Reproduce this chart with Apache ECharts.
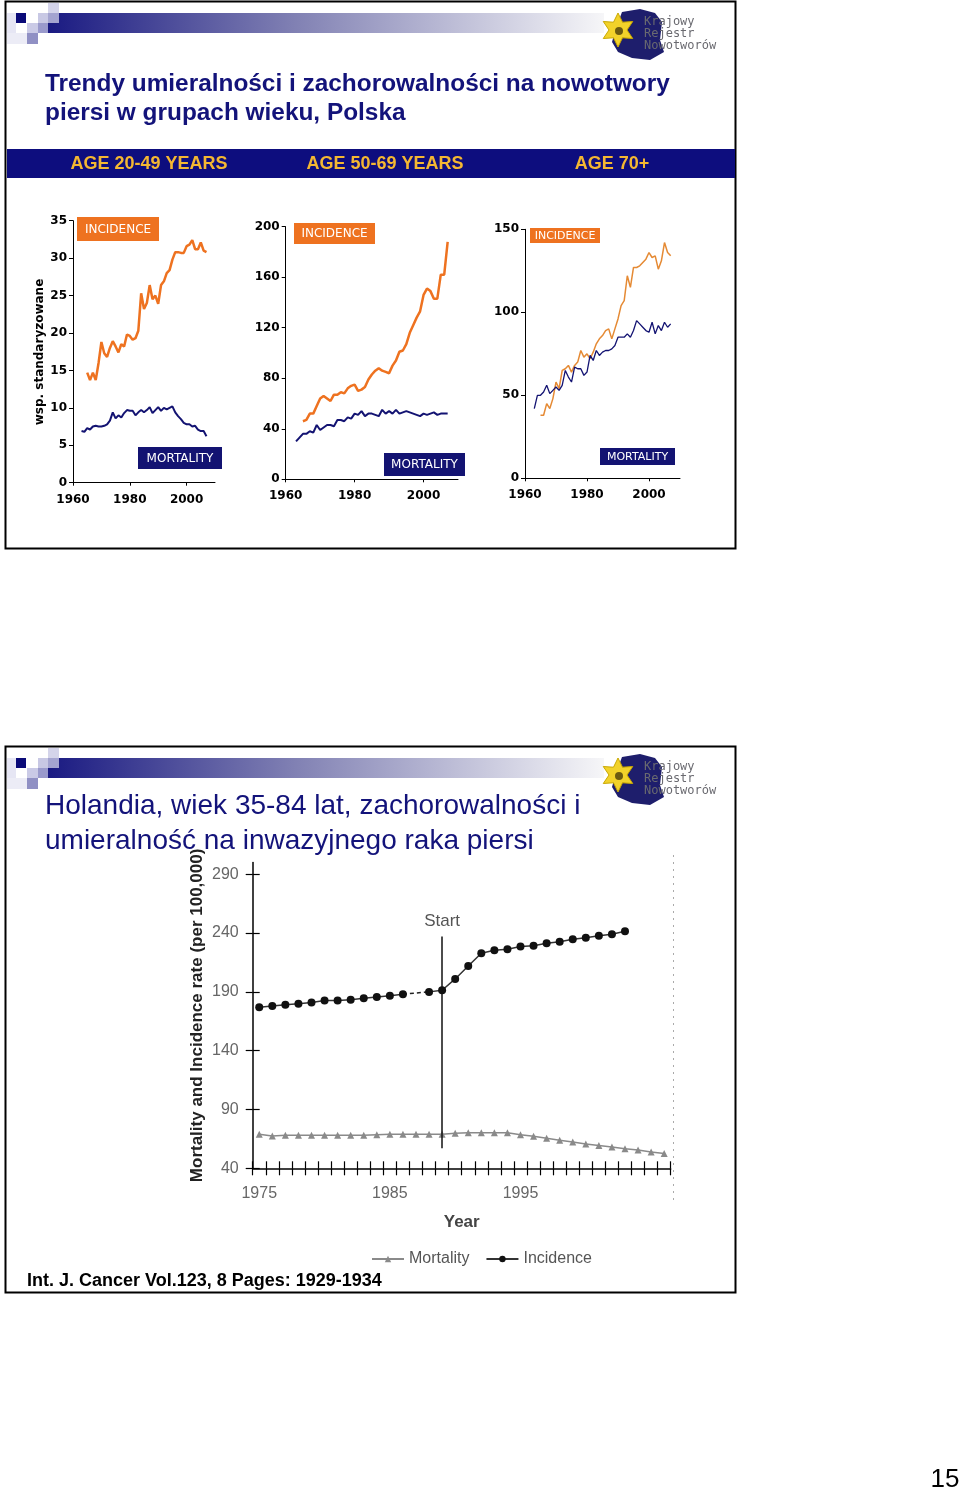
<!DOCTYPE html>
<html>
<head>
<meta charset="utf-8">
<script src="https://cdn.jsdelivr.net/npm/echarts@6/dist/echarts.min.js"></script>
<style>
html, body { margin: 0; padding: 0; background: #fff; }
#main { width: 960px; height: 1494px; }
</style>
</head>
<body>
<div id="main"></div>
<script>
// --- Polska: wsp. standaryzowane, lata 1963-2007 ---
var incStart = 1965
var mortStart = 1963
var inc2049 = [14.7, 13.7, 14.7, 13.7, 16.0, 18.8, 17.3, 16.8, 18.0, 18.9,
  18.2, 17.4, 18.5, 18.2, 19.8, 19.6, 19.1, 19.3, 20.3, 25.3,
  23.2, 24.0, 26.4, 24.5, 25.0, 23.9, 26.4, 26.9, 28.0, 28.4,
  29.8, 30.8, 30.8, 30.7, 30.7, 31.6, 31.8, 32.4, 31.2, 31.2,
  32.1, 31.0, 30.8]
var mort2049 = [6.9, 6.8, 7.3, 7.1, 7.5, 7.6, 7.5, 7.5, 7.6, 7.8,
  8.3, 9.4, 8.6, 9.0, 8.7, 9.3, 9.7, 9.6, 9.6, 9.0,
  9.4, 9.7, 9.4, 9.7, 10.1, 9.3, 9.7, 10.1, 9.6, 10.0,
  9.8, 10.0, 10.2, 9.4, 8.9, 8.5, 8.0, 7.8, 7.8, 7.5,
  7.6, 7.1, 6.9, 6.9, 6.2]
var inc5069 = [46, 47, 52, 52, 58, 64, 66, 64, 62, 67,
  67, 69, 68, 72, 74, 75, 70, 71, 73, 79,
  83, 86, 88, 86, 85, 84, 90, 94, 101, 102,
  107, 116, 122, 128, 133, 146, 151, 149, 143, 143,
  162, 162, 188]
var mort5069 = [30, 33, 36, 36, 38, 37, 43, 39, 41, 43,
  43, 42, 47, 47, 46, 49, 48, 52, 51, 54,
  50, 52, 52, 51, 50, 55, 52, 54, 52, 55,
  52, 53, 54, 53, 52, 51, 50, 52, 51, 52,
  53, 51, 52, 52, 52]
var inc70 = [38, 38, 45, 42, 48, 58, 54, 65, 66, 68,
  64, 68, 70, 77, 73, 75, 72, 76, 81, 84,
  86, 89, 90, 84, 90, 96, 104, 107, 122, 115,
  127, 127, 128, 130, 132, 136, 133, 134, 126, 131,
  142, 136, 134]
var mort70 = [42, 50, 50, 52, 56, 51, 53, 55, 53, 56,
  65, 61, 58, 67, 66, 66, 62, 64, 74, 71,
  77, 74, 76, 77, 77, 78, 80, 85, 85, 85,
  87, 85, 89, 95, 93, 91, 89, 88, 94, 87,
  92, 89, 94, 91, 93]
var yearTicks = [1960, 1980, 2000]

// --- Holandia, 35-84 lat ---
var yearsNL = ['1975', '1976', '1977', '1978', '1979', '1980', '1981', '1982', '1983', '1984',
  '1985', '1986', '1987', '1988', '1989', '1990', '1991', '1992', '1993', '1994',
  '1995', '1996', '1997', '1998', '1999', '2000', '2001', '2002', '2003', '2004',
  '2005', '2006']
var incNL = [177, 178, 179, 180, 181, 182.6, 182.6, 183.4, 184.6, 185.7,
  186.8, 188, null, 190, 191.4, 201, 212, 222.8, 225.4, 226.2,
  228.5, 229.3, 231.3, 232.7, 234.7, 236.1, 237.8, 239, 241.5, null,
  null, null]
var mortNL = [69, 67.5, 68, 68, 68, 68, 68, 68, 68, 68.6,
  69, 69, 69, 69, 69, 69.7, 70.3, 70.3, 70.3, 70.3,
  68.6, 67.2, 65.5, 63.8, 62.4, 60.7, 59.3, 58.1, 56.7, 55.6,
  53.9, 52.5]
var yTicksNL = [40, 90, 140, 190, 240, 290]

function pairs (start, arr) {
  return arr.map(function (v, i) { return [start + i, v] })
}

var ORANGE = '#ee7220'
var NAVY = '#131372'

function smallX (gi) {
  return {
    type: 'value', gridIndex: gi, min: 1960, max: 2010,
    axisLine: { lineStyle: { color: '#000', width: 1 } },
    axisTick: { show: true, length: 3, lineStyle: { color: '#000' }, customValues: yearTicks },
    axisLabel: { color: '#000', fontFamily: 'DejaVu Sans', fontWeight: 'bold', fontSize: 12, margin: 11,
      customValues: yearTicks, formatter: function (v) { return String(v) } },
    splitLine: { show: false }
  }
}
function smallY (gi, max, interval) {
  return {
    type: 'value', gridIndex: gi, min: 0, max: max, interval: interval,
    axisLine: { show: true, lineStyle: { color: '#000', width: 1 } },
    axisTick: { show: true, length: 4, lineStyle: { color: '#000' } },
    axisLabel: { color: '#000', fontFamily: 'DejaVu Sans', fontWeight: 'bold', fontSize: 12, margin: 6 },
    splitLine: { show: false }
  }
}
function smallLine (gi, start, arr, color, width) {
  return {
    type: 'line', xAxisIndex: gi, yAxisIndex: gi, data: pairs(start, arr),
    showSymbol: false, symbol: 'none', color: color,
    lineStyle: { color: color, width: width }
  }
}

function txt (x, y, s, font, fill, align, extra) {
  var el = {
    type: 'text', x: x, y: y,
    style: { text: s, font: font, fill: fill, align: align || 'left', verticalAlign: 'middle',
      textAlign: align || 'left', textVerticalAlign: 'middle' }
  }
  if (extra) for (var k in extra) el[k] = extra[k]
  return el
}
function rect (x, y, w, h, fill) {
  return { type: 'rect', shape: { x: x, y: y, width: w, height: h }, style: { fill: fill } }
}
function tag (x, y, w, h, fill, s, fs) {
  return [rect(x, y, w, h, fill),
    txt(x + w / 2, y + h / 2 + 0.5, s, fs + 'px "DejaVu Sans"', '#fff', 'center')]
}
function starPts (cx, cy, n, r0, r) {
  var p = []
  for (var i = 0; i < n * 2; i++) {
    var a = Math.PI * i / n - Math.PI / 2
    var rr = i % 2 ? r0 : r
    p.push([cx + rr * Math.cos(a), cy + rr * Math.sin(a)])
  }
  return p
}

function header (dy) {
  var g = []
  g.push({ type: 'rect', shape: { x: 48, y: 13 + dy, width: 556, height: 20 },
    style: { fill: { type: 'linear', x: 0, y: 0, x2: 1, y2: 0,
      colorStops: [{ offset: 0, color: '#1a1a82' }, { offset: 0.45, color: '#8282b4' }, { offset: 1, color: '#f6f6f8' }] } } })
  g.push(rect(7, 13 + dy, 9, 20, '#e6e6f4'))
  g.push(rect(7, 33 + dy, 20, 11, '#ececf6'))
  g.push(rect(16, 13 + dy, 10, 10, '#0a0a78'))
  g.push(rect(38, 13 + dy, 10, 10, '#c8c8e4'))
  g.push(rect(48, 3 + dy, 11, 10, '#d4d4ea'))
  g.push(rect(48, 13 + dy, 11, 10, '#a4a4d0'))
  g.push(rect(27, 23 + dy, 11, 10, '#cacae6'))
  g.push(rect(38, 23 + dy, 10, 10, '#9a9acc'))
  g.push(rect(27, 33 + dy, 11, 11, '#9090c4'))
  // logo
  var pts = [[622, 12], [640, 9], [655, 13], [662, 22], [660, 40], [664, 52], [650, 60], [632, 58], [618, 52], [612, 42], [616, 28]]
  g.push({ type: 'polygon', shape: { points: pts.map(function (p) { return [p[0], p[1] + dy] }) },
    style: { fill: '#1e1e6c' } })
  g.push({ type: 'polygon', shape: { points: starPts(618, 30 + dy, 6, 9, 17) },
    style: { fill: '#f2d22a', stroke: '#c9a800', lineWidth: 1 } })
  g.push({ type: 'circle', shape: { cx: 619, cy: 31 + dy, r: 4 }, style: { fill: '#6b5a10' } })
  g.push(txt(644, 22 + dy, 'Krajowy', '12px "DejaVu Sans Mono"', '#6a6a70'))
  g.push(txt(644, 34 + dy, 'Rejestr', '12px "DejaVu Sans Mono"', '#6a6a70'))
  g.push(txt(644, 46 + dy, 'Nowotworów', '12px "DejaVu Sans Mono"', '#6a6a70'))
  return g
}

var graphics = []
// ramki slajdów
graphics.push({ type: 'rect', shape: { x: 5.5, y: 1.5, width: 730, height: 547 }, style: { fill: 'none', stroke: '#000', lineWidth: 2 } })
graphics.push({ type: 'rect', shape: { x: 5.5, y: 746.5, width: 730, height: 546 }, style: { fill: 'none', stroke: '#000', lineWidth: 2 } })
graphics = graphics.concat(header(0), header(745))

graphics.push(txt(45, 84, 'Trendy umieralności i zachorowalności na nowotwory', 'bold 24.4px "Liberation Sans"', '#13137a'))
graphics.push(txt(45, 113, 'piersi w grupach wieku, Polska', 'bold 24.4px "Liberation Sans"', '#13137a'))
graphics.push(rect(7, 149, 728, 29, '#0d0d7e'))
graphics.push(txt(149, 164, 'AGE 20-49 YEARS', 'bold 18px "Liberation Sans"', '#f4b732', 'center'))
graphics.push(txt(385, 164, 'AGE 50-69 YEARS', 'bold 18px "Liberation Sans"', '#f4b732', 'center'))
graphics.push(txt(612, 164, 'AGE 70+', 'bold 18px "Liberation Sans"', '#f4b732', 'center'))
graphics.push(txt(40, 352, 'wsp. standaryzowane', 'bold 12px "DejaVu Sans"', '#000', 'center', { rotation: Math.PI / 2 }))

graphics = graphics.concat(
  tag(77, 217, 82, 24, ORANGE, 'INCIDENCE', 12),
  tag(138, 447, 84, 22, NAVY, 'MORTALITY', 12),
  tag(294, 223, 81, 21, ORANGE, 'INCIDENCE', 12),
  tag(384, 453, 81, 23, NAVY, 'MORTALITY', 12),
  tag(530, 228, 70, 15, ORANGE, 'INCIDENCE', 11),
  tag(600, 448, 75, 17, NAVY, 'MORTALITY', 11)
)

graphics.push(txt(45, 806, 'Holandia, wiek 35-84 lat, zachorowalności i', '28px "Liberation Sans"', '#13137a'))
graphics.push(txt(45, 841, 'umieralność na inwazyjnego raka piersi', '28px "Liberation Sans"', '#13137a'))
graphics.push({ type: 'line', shape: { x1: 673.5, y1: 855, x2: 673.5, y2: 1200 }, style: { stroke: '#aaa', lineWidth: 1, lineDash: [2, 5] } })
graphics.push(txt(27, 1281, 'Int. J. Cancer Vol.123, 8 Pages: 1929-1934', 'bold 18px "Liberation Sans"', '#000'))
graphics.push(txt(945, 1480, '15', '26px "Liberation Sans"', '#000', 'center'))

var gapNL = yearsNL.map(function (y, i) { return (y === '1986' || y === '1988') ? incNL[i] : null })

var nlX = {
  type: 'category', gridIndex: 3, data: yearsNL, boundaryGap: true,
  axisLine: { show: true, lineStyle: { color: '#000', width: 1.5 } },
  axisTick: { show: true, interval: 0, length: 7, lineStyle: { color: '#000', width: 1.2 } },
  axisLabel: { color: '#666', fontFamily: 'Liberation Sans', fontSize: 16, margin: 17,
    interval: function (i, v) { return v === '1975' || v === '1985' || v === '1995' } },
  name: 'Year', nameLocation: 'middle', nameGap: 46,
  nameTextStyle: { color: '#444', fontFamily: 'Liberation Sans', fontWeight: 'bold', fontSize: 17 }
}
var nlX2 = {
  type: 'category', gridIndex: 3, data: yearsNL, boundaryGap: true, position: 'bottom',
  axisLine: { show: false },
  axisTick: { show: true, interval: 0, inside: true, length: 7, lineStyle: { color: '#000', width: 1.2 } },
  axisLabel: { show: false }
}
var nlY = {
  type: 'value', gridIndex: 3, min: 40, max: 300,
  axisLine: { show: true, lineStyle: { color: '#000', width: 1.5 } },
  axisTick: { show: true, length: 7, customValues: yTicksNL, lineStyle: { color: '#000', width: 1.2 } },
  axisLabel: { color: '#666', fontFamily: 'Liberation Sans', fontSize: 16, margin: 14, customValues: yTicksNL },
  splitLine: { show: false },
  name: 'Mortality and Incidence rate (per 100,000)', nameLocation: 'middle', nameGap: 47,
  nameTextStyle: { color: '#222', fontFamily: 'Liberation Sans', fontWeight: 'bold', fontSize: 17 }
}
var nlY2 = {
  type: 'value', gridIndex: 3, min: 40, max: 300, position: 'left',
  axisLine: { show: false },
  axisTick: { show: true, inside: true, length: 7, customValues: yTicksNL, lineStyle: { color: '#000', width: 1.2 } },
  axisLabel: { show: false },
  splitLine: { show: false }
}

var option = {
  animation: false,
  backgroundColor: '#fff',
  graphic: { elements: graphics },
  grid: [
    { left: 73, top: 220.7, width: 142, height: 262 },
    { left: 285.7, top: 226.7, width: 172.3, height: 252.6 },
    { left: 525, top: 229.3, width: 155, height: 249 },
    { left: 252.7, top: 862.5, width: 418, height: 305.8 }
  ],
  xAxis: [smallX(0), smallX(1), smallX(2), nlX, nlX2],
  yAxis: [smallY(0, 35, 5), smallY(1, 200, 40), smallY(2, 150, 50), nlY, nlY2],
  legend: {
    data: ['Mortality', 'Incidence'], left: 366, top: 1246,
    itemWidth: 32, itemHeight: 8, itemGap: 16,
    textStyle: { color: '#555', fontFamily: 'Liberation Sans', fontSize: 16 }
  },
  series: [
    smallLine(0, incStart, inc2049, ORANGE, 2.5),
    smallLine(0, mortStart, mort2049, NAVY, 2),
    smallLine(1, incStart, inc5069, ORANGE, 2.5),
    smallLine(1, mortStart, mort5069, NAVY, 2),
    smallLine(2, incStart, inc70, '#e58a34', 1.5),
    smallLine(2, mortStart, mort70, NAVY, 1.3),
    {
      name: 'Mortality', type: 'line', xAxisIndex: 3, yAxisIndex: 3, data: mortNL,
      symbol: 'triangle', symbolSize: 7, color: '#8a8a8a',
      itemStyle: { color: '#8a8a8a' }, lineStyle: { color: '#8a8a8a', width: 1.5 }
    },
    {
      name: 'Incidence', type: 'line', xAxisIndex: 3, yAxisIndex: 3, data: incNL,
      symbol: 'circle', symbolSize: 8, color: '#111',
      itemStyle: { color: '#111' }, lineStyle: { color: '#333', width: 1.5 },
      markLine: {
        silent: true, symbol: 'none',
        lineStyle: { color: '#111', width: 1.5, type: 'solid' },
        label: { show: true, position: 'start', formatter: 'Start', distance: 7,
          color: '#555', fontFamily: 'Liberation Sans', fontSize: 17 },
        data: [[{ coord: ['1989', 237] }, { coord: ['1989', 57] }]]
      }
    },
    {
      name: 'gap', type: 'line', xAxisIndex: 3, yAxisIndex: 3, data: gapNL, connectNulls: true,
      symbol: 'none', lineStyle: { color: '#222', width: 1.5, type: [4, 3] }
    }
  ]
}

var myChart = echarts.init(document.getElementById('main'))
myChart.setOption(option)
</script>
</body>
</html>
